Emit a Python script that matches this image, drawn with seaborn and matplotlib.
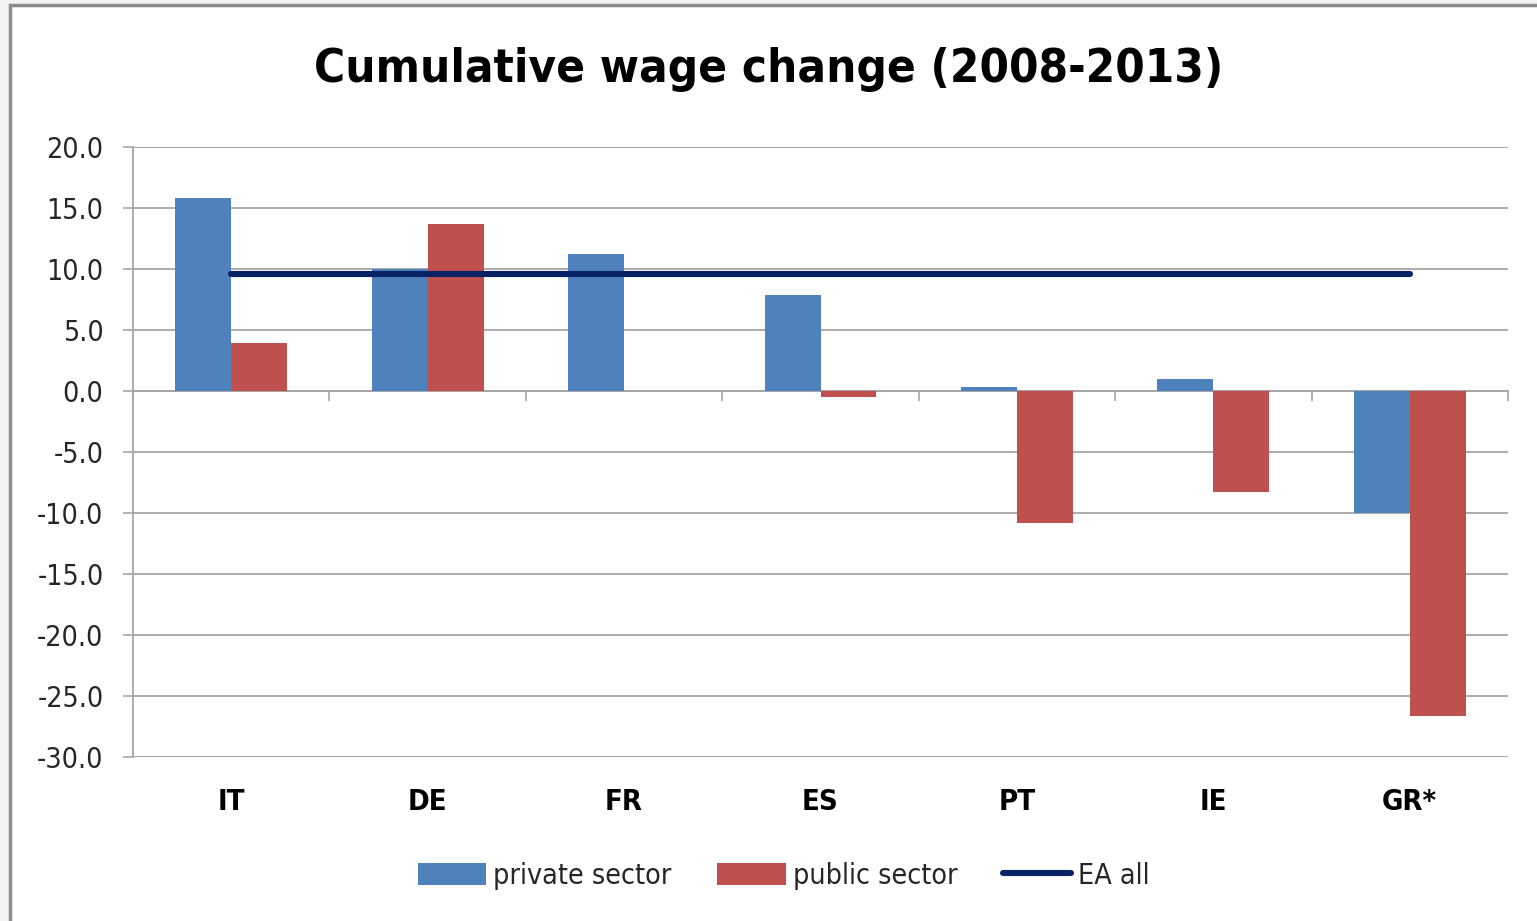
import matplotlib
matplotlib.use("Agg")
import matplotlib.pyplot as plt
from matplotlib import font_manager
from matplotlib.patches import Rectangle, Patch
from matplotlib.lines import Line2D
import numpy as np
import pandas as pd
import seaborn as sns

# Cumulative wage change 2008-2013, per cent
countries = ["IT", "DE", "FR", "ES", "PT", "IE", "GR*"]
private_sector = [15.8, 10.0, 11.2, 7.9, 0.3, 1.0, -10.0]
public_sector = [3.9, 13.7, np.nan, -0.5, -10.8, -8.3, -26.6]
ea_all = [9.6, 9.6, 9.6, 9.6, 9.6, 9.6, 9.6]
series_names = ["private sector", "public sector"]
y_ticks = [-30, -25, -20, -15, -10, -5, 0, 5, 10, 15, 20]

df = pd.DataFrame({
    "country": countries * 2,
    "sector": [series_names[0]] * len(countries) + [series_names[1]] * len(countries),
    "value": private_sector + public_sector,
})

sns.set_theme(style="white")
installed = {f.name for f in font_manager.fontManager.ttflist}
narrow = "Liberation Sans Narrow" if "Liberation Sans Narrow" in installed else "DejaVu Sans"
plt.rcParams["font.family"] = [narrow, "DejaVu Sans"]
plt.rcParams["font.stretch"] = "condensed"

BLUE = "#4F81BD"
RED = "#C0504D"
NAVY = "#072366"
GRID = "#A6A6A6"

fig = plt.figure(figsize=(15.37, 9.21), dpi=100)
fig.patch.set_facecolor("#F3F3F3")
# chart frame
fig.patches.append(Rectangle((10 / 1537, -0.05), 1.1, 1 - 5 / 921 + 0.05,
                             transform=fig.transFigure, facecolor="white",
                             edgecolor="#8C8C8C", linewidth=2.5, zorder=-10))

ax = fig.add_axes([133 / 1537, 1 - 757 / 921, (1508 - 133) / 1537, (757 - 147) / 921])
ax.set_facecolor("none")

sns.barplot(data=df, x="country", y="value", hue="sector", order=countries,
            hue_order=series_names, palette=[BLUE, RED], width=0.57,
            saturation=1, edgecolor="none", linewidth=0, ax=ax, legend=False,
            zorder=3)

sns.lineplot(x=countries, y=ea_all, color=NAVY, linewidth=4.4, ax=ax,
             sort=False, zorder=4, solid_capstyle="round")

ax.set_ylim(-30, 20)
ax.set_xlim(-0.5, len(countries) - 0.5)
ax.set_yticks(y_ticks)
ax.set_yticklabels([f"{v:.1f}" for v in y_ticks], fontsize=20.5, color="#262626")
ax.yaxis.grid(True, color=GRID, linewidth=1.3, zorder=0)
ax.set_axisbelow(True)
ax.tick_params(axis="y", length=7.2, width=1.2, color=GRID, pad=14, left=True)
ax.tick_params(axis="x", length=0, pad=22)
for lbl in ax.get_xticklabels():
    lbl.set_fontweight("bold")
    lbl.set_fontsize(21)
    lbl.set_color("black")
ax.set_xlabel("")
ax.set_ylabel("")

for side in ["top", "right", "bottom"]:
    ax.spines[side].set_visible(False)
ax.spines["left"].set_color(GRID)
ax.spines["left"].set_linewidth(1.3)

# category boundary ticks hanging below the zero line
zero_axis = ax.secondary_xaxis(0.6)
zero_axis.set_xticks(np.arange(len(countries) + 1) - 0.5)
zero_axis.set_xticklabels([])
zero_axis.tick_params(axis="x", direction="in", length=7.2, width=1.2, color=GRID)
for sp in zero_axis.spines.values():
    sp.set_color(GRID)
    sp.set_linewidth(1.3)

fig.text(0.5, 1 - 70 / 921, "Cumulative wage change (2008-2013)", ha="center",
         va="center", fontsize=34, fontweight="bold", color="black")

handles = [Patch(facecolor=BLUE, edgecolor="none"),
           Patch(facecolor=RED, edgecolor="none"),
           Line2D([0], [0], color=NAVY, linewidth=4.4, solid_capstyle="round")]
fig.legend(handles, series_names + ["EA all"], loc="center",
           bbox_to_anchor=(0.51, 1 - 876 / 921), ncol=3, frameon=False,
           fontsize=20.5, handlelength=2.4, handleheight=0.85, handletextpad=0.25,
           columnspacing=1.6)

fig.savefig("out.png", dpi=100, facecolor=fig.get_facecolor())
